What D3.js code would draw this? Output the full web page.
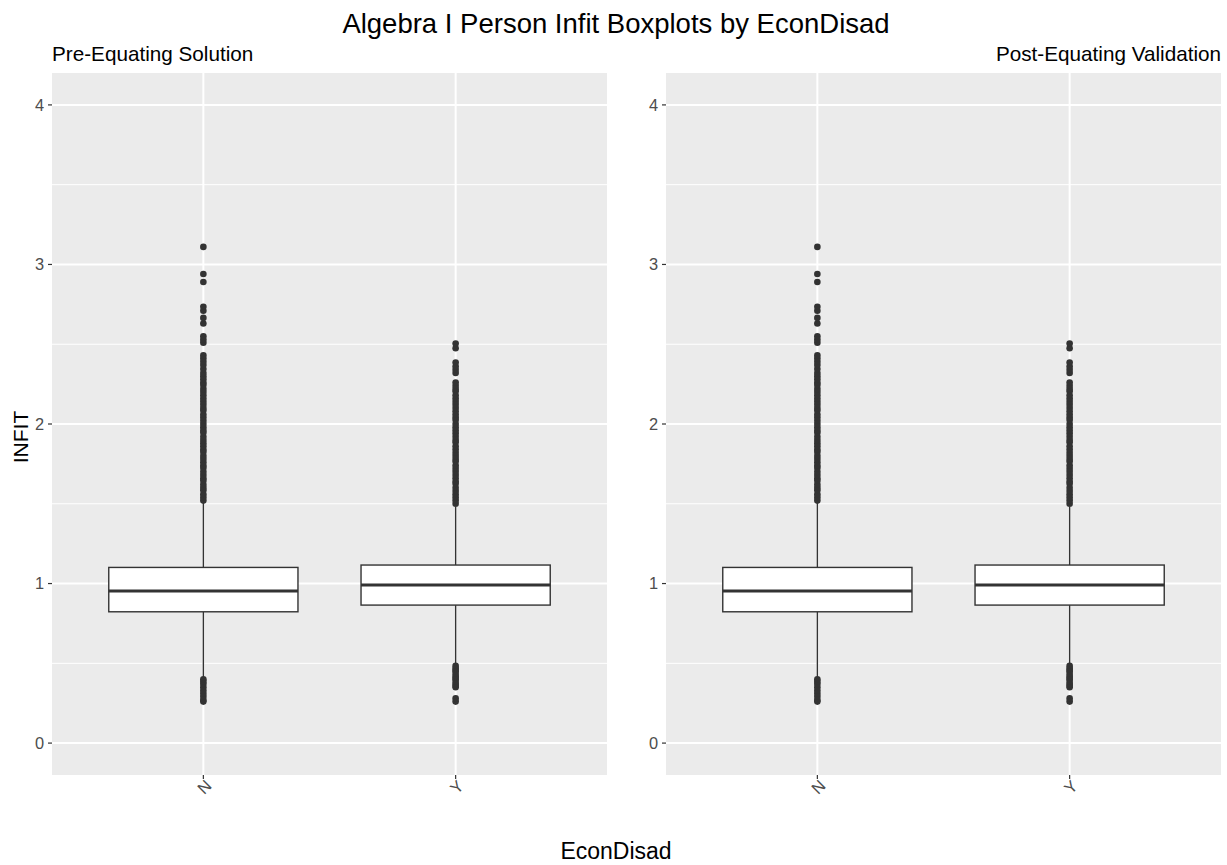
<!DOCTYPE html>
<html>
<head>
<meta charset="utf-8">
<script src="https://cdn.jsdelivr.net/npm/d3@7"></script>
<style>
  body { margin: 0; background: #fff; }
  text { font-family: 'Liberation Sans', Arial, sans-serif; }
</style>
</head>
<body>
<div id="chart"></div>
<script>
const width = 1227
const height = 865

// data
const groups = ['N', 'Y']
const panelTitles = ['Pre-Equating Solution', 'Post-Equating Validation']
const q1 = [0.823, 0.865]
const medians = [0.954, 0.991]
const q3 = [1.101, 1.116]
const whiskerLow = [0.41, 0.50]
const whiskerHigh = [1.51, 1.48]
const outliersN = [0.26, 0.27, 0.29, 0.31, 0.33, 0.35, 0.37, 0.385, 0.40,
  1.52, 1.54, 1.56, 1.585, 1.60, 1.62, 1.645, 1.66, 1.68, 1.70, 1.725, 1.74, 1.76, 1.78, 1.80,
  1.825, 1.84, 1.86, 1.88, 1.90, 1.92, 1.945, 1.96, 1.98, 2.00, 2.02, 2.04, 2.06, 2.085, 2.10,
  2.12, 2.14, 2.16, 2.18, 2.20, 2.22, 2.245, 2.26, 2.28, 2.30, 2.32, 2.345, 2.37, 2.39, 2.41,
  2.43, 2.51, 2.53, 2.55, 2.63, 2.665, 2.71, 2.735, 2.89, 2.94, 3.11]
const outliersY = [0.26, 0.28, 0.35, 0.36, 0.37, 0.385, 0.40, 0.41, 0.42, 0.435, 0.45, 0.46, 0.47, 0.485,
  1.50, 1.52, 1.54, 1.56, 1.58, 1.60, 1.625, 1.64, 1.66, 1.68, 1.70, 1.72, 1.74, 1.765, 1.78,
  1.80, 1.82, 1.84, 1.86, 1.885, 1.90, 1.92, 1.94, 1.96, 1.98, 2.00, 2.025, 2.04, 2.06, 2.08,
  2.10, 2.12, 2.14, 2.16, 2.18, 2.205, 2.22, 2.24, 2.26, 2.32, 2.34, 2.36, 2.385, 2.475, 2.505]
const outliers = [outliersN, outliersY]
const yTicks = [0, 1, 2, 3, 4]
const yMinor = [0.5, 1.5, 2.5, 3.5]

const panels = [
  { x0: 52, x1: 607, title: panelTitles[0], anchor: 'start' },
  { x0: 666, x1: 1221, title: panelTitles[1], anchor: 'end' }
]
const plotTop = 73
const plotBottom = 775

const svg = d3.select('#chart')
  .append('svg')
  .attr('width', width)
  .attr('height', height)

const y = d3.scaleLinear().domain([-0.2, 4.2]).range([plotBottom, plotTop])

const stats = groups.map((g, i) => ({
  g, q1: q1[i], med: medians[i], q3: q3[i], lo: whiskerLow[i], hi: whiskerHigh[i], out: outliers[i]
}))

panels.forEach(p => {
  const x = d3.scalePoint().domain(groups).range([p.x0, p.x1]).padding(0.6)
  const bw = x.step() * 0.75
  const g = svg.append('g')

  g.append('rect')
    .attr('x', p.x0).attr('y', plotTop)
    .attr('width', p.x1 - p.x0).attr('height', plotBottom - plotTop)
    .attr('fill', '#EBEBEB')

  g.selectAll('.minor').data(yMinor).enter().append('line')
    .attr('x1', p.x0).attr('x2', p.x1)
    .attr('y1', d => y(d)).attr('y2', d => y(d))
    .attr('stroke', '#fff').attr('stroke-width', 1)

  g.selectAll('.major').data(yTicks).enter().append('line')
    .attr('x1', p.x0).attr('x2', p.x1)
    .attr('y1', d => y(d)).attr('y2', d => y(d))
    .attr('stroke', '#fff').attr('stroke-width', 2)

  g.selectAll('.vmajor').data(groups).enter().append('line')
    .attr('x1', d => x(d)).attr('x2', d => x(d))
    .attr('y1', plotTop).attr('y2', plotBottom)
    .attr('stroke', '#fff').attr('stroke-width', 2)

  // boxes
  const box = g.selectAll('.box').data(stats).enter().append('g')
  box.append('line')
    .attr('x1', d => x(d.g)).attr('x2', d => x(d.g))
    .attr('y1', d => y(d.q3)).attr('y2', d => y(d.hi))
    .attr('stroke', '#333').attr('stroke-width', 1.4)
  box.append('line')
    .attr('x1', d => x(d.g)).attr('x2', d => x(d.g))
    .attr('y1', d => y(d.q1)).attr('y2', d => y(d.lo))
    .attr('stroke', '#333').attr('stroke-width', 1.4)
  box.append('rect')
    .attr('x', d => x(d.g) - bw / 2).attr('width', bw)
    .attr('y', d => y(d.q3)).attr('height', d => y(d.q1) - y(d.q3))
    .attr('fill', '#fff').attr('stroke', '#333').attr('stroke-width', 1.4)
  box.append('line')
    .attr('x1', d => x(d.g) - bw / 2).attr('x2', d => x(d.g) + bw / 2)
    .attr('y1', d => y(d.med)).attr('y2', d => y(d.med))
    .attr('stroke', '#333').attr('stroke-width', 3)
  box.selectAll('circle').data(d => d.out.map(v => ({ g: d.g, v }))).enter().append('circle')
    .attr('cx', d => x(d.g)).attr('cy', d => y(d.v))
    .attr('r', 3.3).attr('fill', '#333')

  // y axis
  const yAxis = g.append('g')
  yAxis.selectAll('line').data(yTicks).enter().append('line')
    .attr('x1', p.x0 - 4).attr('x2', p.x0)
    .attr('y1', d => y(d)).attr('y2', d => y(d))
    .attr('stroke', '#333').attr('stroke-width', 1.2)
  yAxis.selectAll('text').data(yTicks).enter().append('text')
    .attr('x', p.x0 - 8).attr('y', d => y(d)).attr('dy', '0.36em')
    .attr('text-anchor', 'end').attr('font-size', 16.4).attr('fill', '#4D4D4D')
    .text(d => d)

  // x axis
  const xAxis = g.append('g')
  xAxis.selectAll('line').data(groups).enter().append('line')
    .attr('x1', d => x(d)).attr('x2', d => x(d))
    .attr('y1', plotBottom).attr('y2', plotBottom + 4)
    .attr('stroke', '#333').attr('stroke-width', 1.2)
  xAxis.selectAll('text').data(groups).enter().append('text')
    .attr('transform', d => `translate(${x(d) + 1},${plotBottom + 12}) rotate(-45)`)
    .attr('dy', '0.36em')
    .attr('text-anchor', 'middle').attr('font-size', 16.4).attr('fill', '#4D4D4D')
    .text(d => d)

  svg.append('text')
    .attr('x', p.anchor === 'start' ? p.x0 : p.x1).attr('y', 61)
    .attr('text-anchor', p.anchor).attr('font-size', 20.7).attr('fill', '#000')
    .text(p.title)
})

svg.append('text')
  .attr('x', 616).attr('y', 33)
  .attr('text-anchor', 'middle').attr('font-size', 27.5).attr('fill', '#000')
  .text('Algebra I Person Infit Boxplots by EconDisad')

svg.append('text')
  .attr('x', 616).attr('y', 859)
  .attr('text-anchor', 'middle').attr('font-size', 23).attr('fill', '#000')
  .text('EconDisad')

svg.append('text')
  .attr('transform', 'translate(28,437) rotate(-90)')
  .attr('text-anchor', 'middle').attr('font-size', 21).attr('fill', '#000')
  .text('INFIT')
</script>
</body>
</html>
